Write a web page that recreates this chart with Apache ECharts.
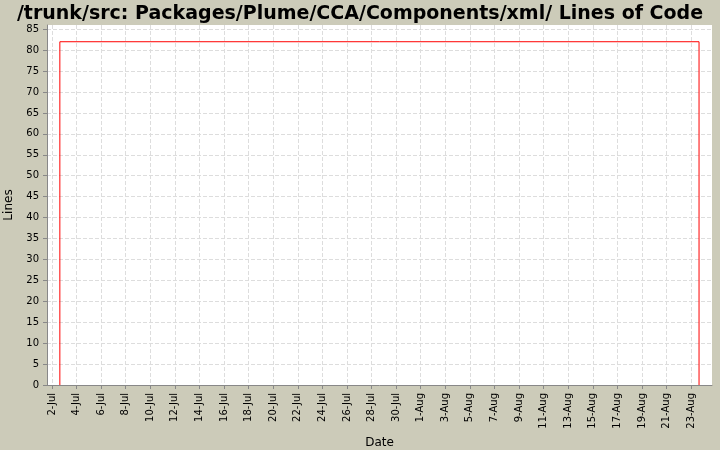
<!DOCTYPE html>
<html><head><meta charset="utf-8">
<script src="https://cdn.jsdelivr.net/npm/echarts@6/dist/echarts.min.js"></script>
<style>html,body{margin:0;padding:0;background:#cccbb9}#c{width:720px;height:450px}</style>
</head><body><div id="c"></div>
<script>
const seriesTimes = ["07-02 15:30","07-02 15:30","08-23 15:30","08-23 15:30"];
const seriesValues = [0, 82, 82, 0];
const yTicks = [0,5,10,15,20,25,30,35,40,45,50,55,60,65,70,75,80,85];
const months = ["Jul","Aug"];
const base = Date.UTC(2000,6,2);
function toDay(s){const [md,hm]=s.split(" ");const [m,d]=md.split("-").map(Number);const [h,mi]=hm.split(":").map(Number);return (Date.UTC(2000,m-1,d,h,mi)-base)/86400000;}
const data = seriesTimes.map((t,i)=>[toDay(t),seriesValues[i]]);
const tickDays=[];for(let d=0;d<=52;d+=2)tickDays.push(d);
function fmt(v){const dt=new Date(base+Math.round(v)*86400000);return dt.getUTCDate()+"-"+months[dt.getUTCMonth()-6];}
const chart=echarts.init(document.getElementById('c'));
chart.setOption({
 backgroundColor:'#cccbb9',
 title:{text:'/trunk/src: Packages/Plume/CCA/Components/xml/ Lines of Code',left:'center',top:0,textStyle:{fontFamily:'DejaVu Sans',fontWeight:'bold',fontSize:19,color:'#000'}},
 grid:{left:47,right:8,top:25,bottom:65,backgroundColor:'#fff',show:true,borderWidth:0,containLabel:false,outerBoundsMode:'none'},
 xAxis:{type:'value',min:-0.4,max:53.7,name:'Date',nameLocation:'middle',nameGap:48,nameTextStyle:{fontFamily:'DejaVu Sans',fontSize:12,color:'#000'},
  axisLine:{onZero:false,lineStyle:{color:'#888'}},
  axisTick:{customValues:tickDays,length:4,lineStyle:{color:'#888'}},
  axisLabel:{customValues:tickDays,rotate:90,formatter:fmt,fontFamily:'DejaVu Sans',fontSize:10,color:'#000'},
  splitLine:{show:true,lineStyle:{color:'#ddd',type:'dashed'}}},
 yAxis:{type:'value',min:0,max:86,name:'Lines',nameLocation:'middle',nameGap:32,nameTextStyle:{fontFamily:'DejaVu Sans',fontSize:12,color:'#000'},
  axisLine:{show:true,onZero:false,lineStyle:{color:'#888'}},
  axisTick:{show:true,customValues:yTicks,length:4,lineStyle:{color:'#888'}},
  axisLabel:{customValues:yTicks,fontFamily:'DejaVu Sans',fontSize:10,color:'#000'},
  splitLine:{show:true,lineStyle:{color:'#ddd',type:'dashed'}}},
 series:[{type:'line',data:data,symbol:'none',lineStyle:{color:'#ff0000',width:1},animation:false}]
});
</script></body></html>
